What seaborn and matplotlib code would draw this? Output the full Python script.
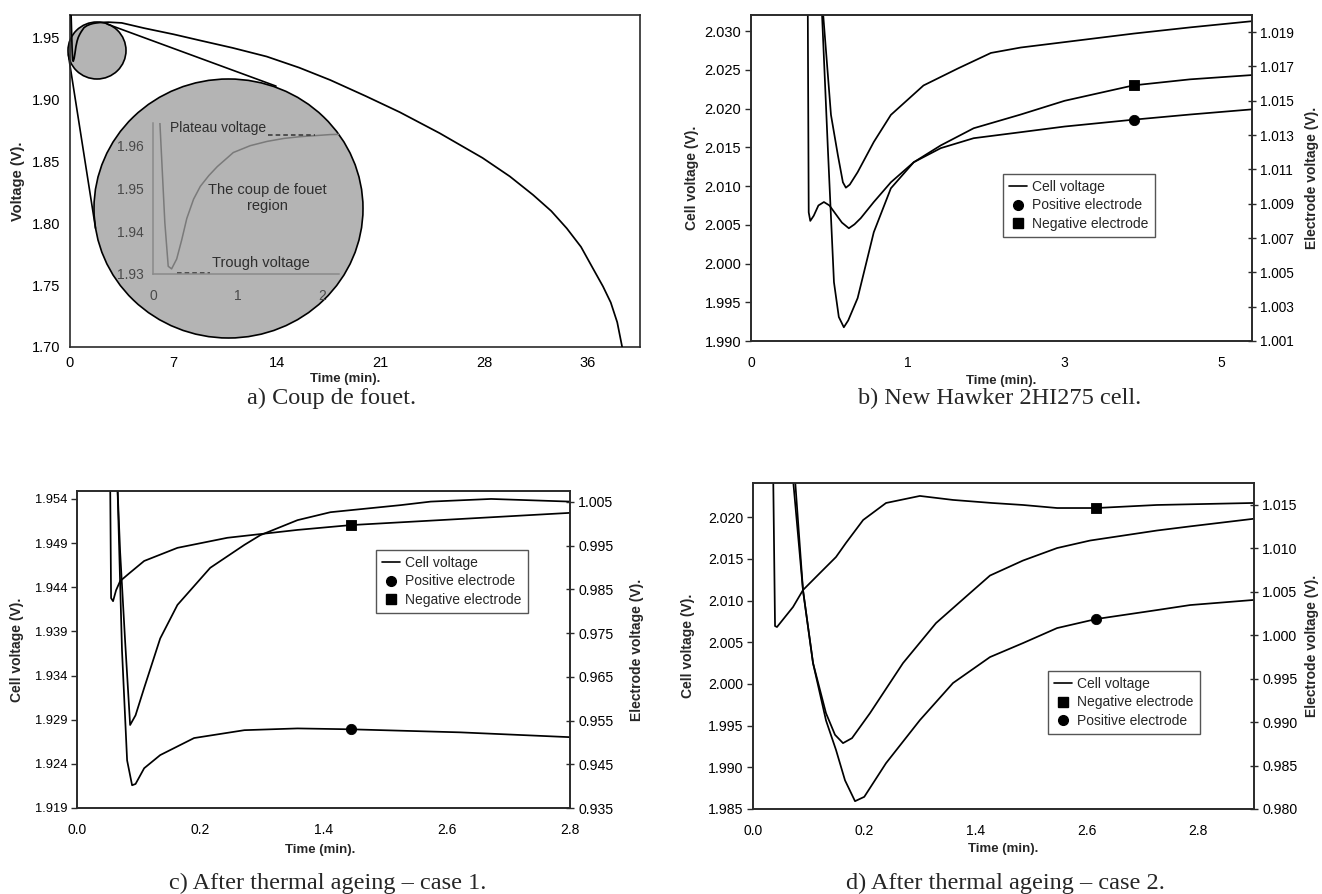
import numpy as np
import pandas as pd
import matplotlib
matplotlib.use("Agg")
import matplotlib.pyplot as plt
import seaborn as sns
from matplotlib.patches import Ellipse
from matplotlib.lines import Line2D
from matplotlib.transforms import Affine2D

# ---------------------------------------------------------------- data
# a) Coup de fouet (full discharge, minutes / volts)
a_time = [0.0, 0.06, 0.08, 0.10, 0.14, 0.18, 0.22, 0.28, 0.34, 0.40,
          0.48, 0.56, 0.66, 0.76, 0.95, 1.15, 1.35, 1.55, 1.74, 2.1,
          2.6, 3.5, 5.0, 7.0, 8.8, 11.0, 13.3, 15.5, 17.6, 20.0,
          22.3, 25.0, 27.9, 30.0, 31.8, 33.2, 34.4, 35.5, 36.4, 37.2,
          37.8, 38.3, 38.7]
a_volt = [1.975, 1.972, 1.966, 1.958, 1.942, 1.9318, 1.9312, 1.9335, 1.938, 1.943,
          1.9475, 1.9505, 1.953, 1.9551, 1.9584, 1.9600, 1.9610, 1.9617, 1.9621, 1.9626,
          1.9628, 1.9622, 1.9580, 1.9530, 1.9480, 1.9420, 1.9350, 1.9260, 1.9160, 1.9030,
          1.8900, 1.8730, 1.8530, 1.8380, 1.8230, 1.8100, 1.7960, 1.7810, 1.7640, 1.7490,
          1.7360, 1.7200, 1.6990]
a_xticks = [0, 7, 14, 21, 28, 36]
a_xlabels = ["0", "7", "14", "21", "28", "36"]
a_yticks = [1.70, 1.75, 1.80, 1.85, 1.90, 1.95]
inset_xticks = [0, 1, 2]
inset_yticks = [1.93, 1.94, 1.95, 1.96]
plateau_v = 1.9626
trough_v = 1.9303

# b) New Hawker 2HI275 cell
b_cell_t = [0.459, 0.51, 0.554, 0.586, 0.605, 0.63, 0.68, 0.783, 0.892, 1.20,
            1.64, 2.06, 2.44, 3.0, 3.88, 4.6, 5.39]
b_cell_v = [2.0325, 2.0192, 2.0140, 2.0105, 2.0098, 2.0102, 2.0118, 2.0157, 2.0192, 2.0230,
            2.0252, 2.0272, 2.0279, 2.0286, 2.0297, 2.0305, 2.0313]
b_neg_t = [0.362, 0.368, 0.378, 0.40, 0.43, 0.465, 0.50, 0.54, 0.58, 0.624,
           0.66, 0.70, 0.783, 0.892, 1.076, 1.42, 1.84, 2.44, 3.0, 3.88, 4.6, 5.39]
b_neg_v = [1.0205, 1.0085, 1.0080, 1.0083, 1.0089, 1.0091, 1.0089, 1.0084, 1.0079, 1.00757,
           1.0078, 1.00816, 1.0091, 1.01025, 1.01142, 1.0124, 1.0134, 1.0142, 1.0150, 1.0159,
           1.01625, 1.0165]
b_pos_t = [0.446, 0.49, 0.529, 0.56, 0.592, 0.62, 0.68, 0.783, 0.892, 1.076,
           1.42, 1.84, 2.44, 3.0, 3.88, 4.6, 5.39]
b_pos_v = [1.0215, 1.01224, 1.00443, 1.0024, 1.0018, 1.0022, 1.0035, 1.00734, 1.0099, 1.01142,
           1.01224, 1.01282, 1.01317, 1.0135, 1.0139, 1.0142, 1.0145]
b_marker_t = 3.88
b_xticks = [0, 1, 3, 5]
b_xlabels = ["0", "1", "3", "5"]
b_cell_ticks = [1.990, 1.995, 2.000, 2.005, 2.010, 2.015, 2.020, 2.025, 2.030]
b_elec_ticks = [1.001, 1.003, 1.005, 1.007, 1.009, 1.011, 1.013, 1.015, 1.017, 1.019]

# c) After thermal ageing - case 1
c_cell_t = [0.0618, 0.070, 0.078, 0.0862, 0.095, 0.109, 0.135, 0.163, 0.297, 0.63,
            0.785, 1.147, 1.468, 2.151, 2.444, 2.672, 2.8]
c_cell_v = [1.962, 1.948, 1.938, 1.9284, 1.9295, 1.9326, 1.9382, 1.942, 1.9462, 1.9488,
            1.9499, 1.9516, 1.9525, 1.9533, 1.9537, 1.9540, 1.9537]
c_neg_t = [0.0537, 0.0553, 0.0585, 0.0634, 0.07, 0.085, 0.109, 0.163, 0.464, 1.147,
           1.664, 2.622, 2.8]
c_neg_v = [1.012, 0.9830, 0.9823, 0.9848, 0.9869, 0.9887, 0.9915, 0.9945, 0.9968, 0.9986,
           0.9997, 1.0011, 1.0025]
c_pos_t = [0.065, 0.073, 0.0813, 0.0894, 0.095, 0.109, 0.135, 0.19, 0.63, 1.147,
           1.664, 2.622, 2.8]
c_pos_v = [1.012, 0.9711, 0.9459, 0.9402, 0.9405, 0.9441, 0.9471, 0.9510, 0.9528, 0.9532,
           0.9530, 0.9523, 0.9512]
c_marker_t = 1.664
c_xticks = [0.0, 0.2, 1.4, 2.6, 2.8]
c_xlabels = ["0.0", "0.2", "1.4", "2.6", "2.8"]
c_cell_ticks = [1.919, 1.924, 1.929, 1.934, 1.939, 1.944, 1.949, 1.954]
c_elec_ticks = [0.935, 0.945, 0.955, 0.965, 0.975, 0.985, 0.995, 1.005]

# d) After thermal ageing - case 2
d_cell_t = [0.072, 0.0899, 0.1079, 0.1312, 0.1474, 0.1618, 0.178, 0.262, 0.618, 0.974,
            1.341, 1.556, 1.912, 2.28, 2.606, 2.726, 2.786, 2.899]
d_cell_v = [2.0245, 2.0112, 2.0025, 1.9965, 1.9939, 1.9929, 1.9935, 1.9965, 2.0025, 2.0073,
            2.0109, 2.0130, 2.0148, 2.0163, 2.0172, 2.0184, 2.0189, 2.0198]
d_neg_t = [0.036, 0.0396, 0.0431, 0.0719, 0.0899, 0.1204, 0.1492, 0.167, 0.198, 0.435,
           0.80, 1.157, 1.578, 1.912, 2.28, 2.617, 2.726, 2.899]
d_neg_v = [1.020, 1.00106, 1.00095, 1.00325, 1.00521, 1.00717, 1.00901, 1.01062, 1.01327, 1.01523,
           1.01604, 1.01558, 1.01523, 1.0150, 1.01465, 1.01465, 1.0150, 1.01523]
d_pos_t = [0.0755, 0.0899, 0.1079, 0.1312, 0.1492, 0.1654, 0.1834, 0.20, 0.435, 0.80,
           1.157, 1.556, 1.912, 2.28, 2.617, 2.726, 2.786, 2.899]
d_pos_v = [1.0180, 1.0052, 0.9968, 0.9902, 0.9868, 0.9833, 0.9809, 0.9814, 0.98528, 0.99023,
           0.9945, 0.99749, 0.9991, 1.00083, 1.00187, 1.00290, 1.00348, 1.00406]
d_marker_t = 2.617
d_xticks = [0.0, 0.2, 1.4, 2.6, 2.8]
d_xlabels = ["0.0", "0.2", "1.4", "2.6", "2.8"]
d_cell_ticks = [1.985, 1.990, 1.995, 2.000, 2.005, 2.010, 2.015, 2.020]
d_elec_ticks = [0.980, 0.985, 0.990, 0.995, 1.000, 1.005, 1.010, 1.015]

captions = ["a) Coup de fouet.", "b) New Hawker 2HI275 cell.",
            "c) After thermal ageing \u2013 case 1.", "d) After thermal ageing \u2013 case 2."]

# ---------------------------------------------------------------- style
sns.set_style("white")
plt.rcParams["font.family"] = ["Liberation Sans", "DejaVu Sans"]
plt.rcParams["axes.edgecolor"] = "#2a2a2a"
plt.rcParams["axes.linewidth"] = 1.2

W, H = 1322, 894
fig = plt.figure(figsize=(W / 100, H / 100), dpi=100)
fig.patch.set_facecolor("white")
PX = Affine2D().scale(1 / W, -1 / H).translate(0, 1) + fig.transFigure
LINE = dict(color="black", lw=1.25, estimator=None, sort=False, legend=False)


def axes_px(l, t, r, b):
    return fig.add_axes([l / W, 1 - b / H, (r - l) / W, (b - t) / H])


def piecewise(ticks):
    t = np.asarray(ticks, float)
    p = np.arange(len(t), dtype=float)
    t_ext = np.concatenate([[t[0] - 1000 * (t[1] - t[0])], t, [t[-1] + 1000 * (t[-1] - t[-2])]])
    p_ext = np.concatenate([[-1000.0], p, [p[-1] + 1000.0]])
    return (lambda x: np.interp(x, t_ext, p_ext), lambda y: np.interp(y, p_ext, t_ext))


def set_x(ax, ticks, labels, xmax, fs, pad=4):
    ax.set_xscale("function", functions=piecewise(ticks))
    ax.set_xlim(ticks[0], xmax)
    ax.set_xticks(ticks, labels=labels)
    ax.tick_params(axis="x", direction="inout", length=5, width=1, labelsize=fs, pad=pad,
                   colors="#2a2a2a", labelcolor="black")


def set_y(ax, ticks, lo, hi, fmt, fs, side="left"):
    ax.set_ylim(lo, hi)
    ax.set_yticks(ticks, labels=[fmt.format(v) for v in ticks])
    ax.tick_params(axis="y", direction="out" if side == "left" else "inout",
                   length=4 if side == "left" else 6, width=1, labelsize=fs, pad=3,
                   colors="#2a2a2a", labelcolor="black")


def ylab(ax, text, x, fs):
    ax.set_ylabel(text, fontsize=fs, fontweight="bold")
    ax.yaxis.set_label_coords(x, 0.5)
    ax.yaxis.label.set_va("center")


def xlab(ax, text, x, y, fs):
    ax.set_xlabel(text, fontsize=fs, fontweight="bold")
    ax.xaxis.set_label_coords(x, y)
    ax.xaxis.label.set_va("center")


def legend(ax, items, anchor):
    handles = []
    for kind in items:
        if kind == "Cell voltage":
            handles.append(Line2D([0], [0], color="black", lw=1.2))
        elif kind.startswith("Positive"):
            handles.append(Line2D([0], [0], marker="o", ls="none", color="black", ms=7))
        else:
            handles.append(Line2D([0], [0], marker="s", ls="none", color="black", ms=7))
    lg = ax.legend(handles, items, loc="upper left", bbox_to_anchor=anchor, bbox_transform=PX,
                   frameon=True, fancybox=False, edgecolor="#555555", framealpha=1,
                   fontsize=10, handlelength=1.3, handletextpad=0.35, borderpad=0.45,
                   labelspacing=0.3, borderaxespad=0)
    lg.get_frame().set_linewidth(1.0)
    lg.set_zorder(10)


def markers(ax, t, neg_t, neg_v, pos_t, pos_v):
    yn = np.interp(t, neg_t, neg_v)
    yp = np.interp(t, pos_t, pos_v)
    sns.scatterplot(x=[t], y=[yn], marker="s", s=60, color="black", edgecolor="black",
                    ax=ax, zorder=6, legend=False)
    sns.scatterplot(x=[t], y=[yp], marker="o", s=55, color="black", edgecolor="black",
                    ax=ax, zorder=6, legend=False)


# ---------------------------------------------------------------- panel a
axA = axes_px(70, 15, 640, 347)
sns.lineplot(x=a_time, y=a_volt, ax=axA, zorder=3, **LINE)
set_x(axA, a_xticks, a_xlabels, 40.06, 10.5)
set_y(axA, a_yticks, 1.70, 1.9686, "{:.2f}", 10.5)
ylab(axA, "Voltage (V).", -0.091, 10.5)
xlab(axA, "Time (min).", 0.482, -0.096, 9.5)

# magnifier circles and connecting tangents (pixel layout)
small_c, small_w, small_h = np.array([97.0, 50.5]), 58.0, 57.0
big_c, big_w, big_h = np.array([228.5, 208.5]), 269.0, 259.0
for c, w, h in [(small_c, small_w, small_h), (big_c, big_w, big_h)]:
    axA.add_patch(Ellipse(c, w, h, transform=PX, facecolor="#b4b4b4", edgecolor="black",
                          lw=1.2, clip_on=False, zorder=1.5))
k = (big_w / big_h + small_w / small_h) / 2
c1 = small_c * [1, k]
c2 = big_c * [1, k]
r1, r2 = small_w / 2, big_w / 2
d = c2 - c1
L = np.hypot(*d)
u = d / L
perp = np.array([-u[1], u[0]])
aa = (r2 - r1) / L
for s in (1, -1):
    n = aa * u + s * np.sqrt(1 - aa ** 2) * perp
    p1 = (c1 - r1 * n) / [1, k]
    p2 = (c2 - r2 * n) / [1, k]
    axA.add_line(Line2D([p1[0], p2[0]], [p1[1], p2[1]], transform=PX, color="black",
                        lw=1.2, clip_on=False, zorder=1.6))

# inset axes (zoom on the coup de fouet)
axI = axes_px(153, 123, 339, 274)
axI.patch.set_visible(False)
sns.lineplot(x=a_time, y=a_volt, ax=axI, color="#7a7a7a", lw=1.1, estimator=None,
             sort=False, legend=False)
axI.set_xlim(0, 2.2)
axI.set_ylim(1.93, 1.9653)
for sp in ["top", "right"]:
    axI.spines[sp].set_visible(False)
for sp in ["left", "bottom"]:
    axI.spines[sp].set_color("#8a8a8a")
    axI.spines[sp].set_linewidth(1.1)
axI.set_xticks(inset_xticks, labels=[str(v) for v in inset_xticks])
axI.set_yticks(inset_yticks, labels=["{:.2f}".format(v) for v in inset_yticks])
axI.tick_params(direction="inout", length=5, width=1, colors="#8a8a8a", labelcolor="#4a4a4a",
                labelsize=10)
axI.tick_params(axis="x", pad=8)
axI.tick_params(axis="y", pad=4)
axI.set_xlabel("")
axI.set_ylabel("")
axI.plot([1.36, 1.92], [plateau_v, plateau_v], ls=(0, (3, 2)), color="#333333", lw=1.1)
axI.plot([0.28, 0.67], [trough_v, trough_v], ls=(0, (3, 2)), color="#333333", lw=1.1)
fig.text(170, 128, "Plateau voltage", transform=PX, ha="left", va="center",
         fontsize=10, color="#2e2e2e")
fig.text(267, 198, "The coup de fouet\nregion", transform=PX, ha="center", va="center",
         fontsize=10.5, color="#2e2e2e", linespacing=1.25)
fig.text(212, 263, "Trough voltage", transform=PX, ha="left", va="center",
         fontsize=10.5, color="#2e2e2e")

# ---------------------------------------------------------------- panel b
axB = axes_px(751, 15, 1252, 341)
axB2 = axB.twinx()
sns.lineplot(x=b_cell_t, y=b_cell_v, ax=axB, **LINE)
sns.lineplot(x=b_neg_t, y=b_neg_v, ax=axB2, **LINE)
sns.lineplot(x=b_pos_t, y=b_pos_v, ax=axB2, **LINE)
markers(axB2, b_marker_t, b_neg_t, b_neg_v, b_pos_t, b_pos_v)
set_x(axB, b_xticks, b_xlabels, 5.39, 10, pad=8)
set_y(axB, b_cell_ticks, 1.990, 2.0321, "{:.3f}", 10.5)
set_y(axB2, b_elec_ticks, 1.001, 1.0200, "{:.3f}", 9.8, side="right")
ylab(axB, "Cell voltage (V).", -0.118, 10)
ylab(axB2, "Electrode voltage (V).", 1.12, 10)
xlab(axB, "Time (min).", 0.5, -0.123, 9.5)
legend(axB2, ["Cell voltage", "Positive electrode", "Negative electrode"], (1003, 174))

# ---------------------------------------------------------------- panel c
axC = axes_px(77, 491, 570, 808)
axC2 = axC.twinx()
sns.lineplot(x=c_cell_t, y=c_cell_v, ax=axC, **LINE)
sns.lineplot(x=c_neg_t, y=c_neg_v, ax=axC2, **LINE)
sns.lineplot(x=c_pos_t, y=c_pos_v, ax=axC2, **LINE)
markers(axC2, c_marker_t, c_neg_t, c_neg_v, c_pos_t, c_pos_v)
set_x(axC, c_xticks, c_xlabels, 2.8, 10, pad=8)
set_y(axC, c_cell_ticks, 1.919, 1.9549, "{:.3f}", 9.3)
set_y(axC2, c_elec_ticks, 0.935, 1.0075, "{:.3f}", 10.2, side="right")
ylab(axC, "Cell voltage (V).", -0.122, 10)
ylab(axC2, "Electrode voltage (V).", 1.136, 10)
xlab(axC, "Time (min).", 0.493, -0.132, 9.5)
legend(axC2, ["Cell voltage", "Positive electrode", "Negative electrode"], (376, 550))

# ---------------------------------------------------------------- panel d
axD = axes_px(753, 483, 1254, 809)
axD2 = axD.twinx()
sns.lineplot(x=d_cell_t, y=d_cell_v, ax=axD, **LINE)
sns.lineplot(x=d_neg_t, y=d_neg_v, ax=axD2, **LINE)
sns.lineplot(x=d_pos_t, y=d_pos_v, ax=axD2, **LINE)
markers(axD2, d_marker_t, d_neg_t, d_neg_v, d_pos_t, d_pos_v)
set_x(axD, d_xticks, d_xlabels, 2.9006, 10, pad=8)
set_y(axD, d_cell_ticks, 1.985, 2.0241, "{:.3f}", 10.2)
set_y(axD2, d_elec_ticks, 0.980, 1.01753, "{:.3f}", 10.2, side="right")
ylab(axD, "Cell voltage (V).", -0.13, 10)
ylab(axD2, "Electrode voltage (V).", 1.116, 10)
xlab(axD, "Time (min).", 0.5, -0.123, 9.5)
legend(axD2, ["Cell voltage", "Negative electrode", "Positive electrode"], (1048, 671))

# ---------------------------------------------------------------- captions
for (cx, cy), text in zip([(332, 398), (1000, 398), (328, 883), (1005, 883)], captions):
    fig.text(cx, cy, text, transform=PX, ha="center", va="center",
             family=["Liberation Serif", "DejaVu Serif"], fontsize=17.5)

fig.savefig("out.png", dpi=100, facecolor="white")
